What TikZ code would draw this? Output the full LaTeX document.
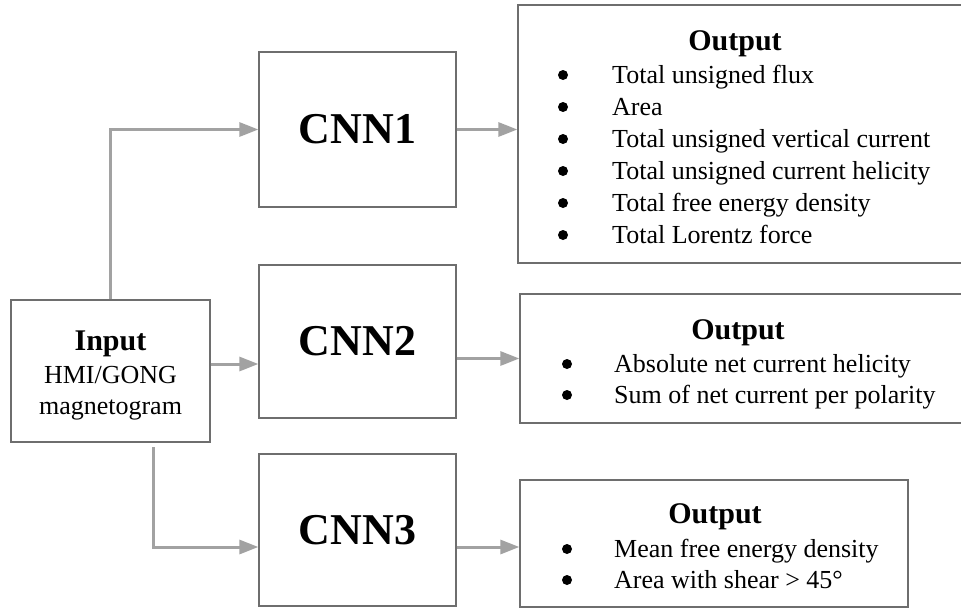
\documentclass[tikz,border=0pt]{standalone}
\usepackage{fontspec}
\setmainfont{Liberation Serif}
\usetikzlibrary{arrows.meta}
\definecolor{boxgray}{HTML}{6E6E6E}
\definecolor{arrgray}{HTML}{A2A2A2}
\begin{document}
\begin{tikzpicture}[x=1pt,y=-1pt,
  box/.style={draw=boxgray,line width=1.3pt,rectangle,inner sep=0pt,fill=white},
  arr/.style={draw=arrgray,line width=3pt,-{Triangle[length=19pt,width=14pt]}},
  cnnlabel/.style={font=\fontsize{44}{44}\selectfont\bfseries},
  head/.style={font=\fontsize{30}{30}\selectfont\bfseries,anchor=base,inner sep=0pt},
  item/.style={font=\fontsize{26}{26}\selectfont,anchor=base west,inner sep=0pt},
  bul/.style={circle,fill=black,draw=none,minimum size=10pt,inner sep=0pt},
  ctext/.style={font=\fontsize{26}{26}\selectfont,anchor=base,inner sep=0pt}]
\useasboundingbox (0,0) rectangle (961,608);
\clip (0,0) rectangle (961,608);
\fill[white] (0,0) rectangle (961,608);

% boxes
\node[box,minimum width=199pt,minimum height=142pt] (inp) at (110.5,371) {};
\node[box,minimum width=197pt,minimum height=155pt,cnnlabel] (cnn1) at (357.5,129.5) {CNN1};
\node[box,minimum width=197pt,minimum height=153pt,cnnlabel] (cnn2) at (357.5,341.5) {CNN2};
\node[box,minimum width=197pt,minimum height=152pt,cnnlabel] (cnn3) at (357.5,530) {CNN3};
\node[box,minimum width=447pt,minimum height=258pt] (out1) at (741.5,134) {};
\node[box,minimum width=445pt,minimum height=129pt] (out2) at (742.5,358.5) {};
\node[box,minimum width=388pt,minimum height=127pt] (out3) at (714,543.5) {};

% input text
\node[head] (inpt) at (110.5,350) {Input};
\node[ctext] (inp1) at (110.5,383) {HMI/GONG};
\node[ctext] (inp2) at (110.5,414) {magnetogram};

% output 1
\node[head] (o1h) at (735,50) {Output};
\foreach \y/\t [count=\i] in {83/Total unsigned flux,115/Area,147/Total unsigned vertical current,179/Total unsigned current helicity,211/Total free energy density,243/Total Lorentz force}{
  \node[bul] (o1b\i) at (563,\y-8) {};
  \node[item] (o1t\i) at (612,\y) {\t};
}
% output 2
\node[head] (o2h) at (738,339) {Output};
\foreach \y/\t [count=\i] in {372/Absolute net current helicity,403/Sum of net current per polarity}{
  \node[bul] (o2b\i) at (567,\y-8) {};
  \node[item] (o2t\i) at (614,\y) {\t};
}
% output 3
\node[head] (o3h) at (715,523) {Output};
\foreach \y/\t [count=\i] in {557/Mean free energy density,588/Area with shear > 45°}{
  \node[bul] (o3b\i) at (567,\y-8) {};
  \node[item] (o3t\i) at (614,\y) {\t};
}

% connectors
\draw[arr] (inp.north) |- (cnn1.west);
\coordinate (m2) at (inp.east |- 0,364);
\draw[arr] (m2) -- (m2 -| cnn2.west);
\coordinate (b3) at (153,447);
\coordinate (c3) at ([yshift=-17pt]cnn3.west);
\draw[arr] (b3) |- (c3);
\draw[arr] (cnn1.east) -- (cnn1.east -| out1.west);
\draw[arr] (out2.west -| cnn2.east) -- (out2.west);
\coordinate (a3) at ([yshift=-17pt]cnn3.east);
\draw[arr] (a3) -- (a3 -| out3.west);
\end{tikzpicture}
\end{document}
